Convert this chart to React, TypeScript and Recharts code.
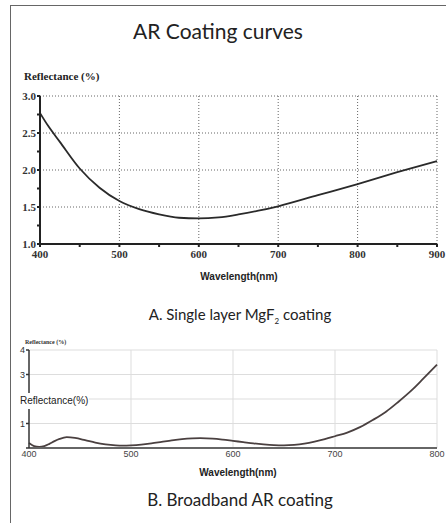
import React from "react";
import { LineChart, Line, XAxis, YAxis, CartesianGrid } from "recharts";

// A. single layer MgF2
const wavelengthA = [400, 410, 425, 450, 475, 500, 525, 550, 575, 600, 625, 650, 675, 700, 750, 800, 850, 900];
const reflectanceA = [2.77, 2.6, 2.38, 2.02, 1.76, 1.58, 1.47, 1.4, 1.355, 1.345, 1.36, 1.4, 1.45, 1.51, 1.66, 1.81, 1.97, 2.12];
const xTicksA = [400, 450, 500, 550, 600, 650, 700, 750, 800, 850, 900];
const yTicksA = [1, 1.25, 1.5, 1.75, 2, 2.25, 2.5, 2.75, 3];

// B. broadband AR
const wavelengthB = [400, 405, 410, 415, 420, 425, 430, 437, 445, 455, 465, 475, 485, 492, 500, 510, 520, 530, 540, 550, 560, 568, 580, 590, 600, 610, 620, 630, 640, 650, 660, 670, 680, 690, 700, 712, 725, 737, 750, 762, 775, 787, 800];
const reflectanceB = [0.2, 0.08, 0.05, 0.08, 0.17, 0.28, 0.37, 0.44, 0.41, 0.32, 0.22, 0.15, 0.11, 0.1, 0.11, 0.14, 0.19, 0.25, 0.31, 0.36, 0.39, 0.4, 0.38, 0.34, 0.29, 0.24, 0.19, 0.15, 0.12, 0.11, 0.13, 0.18, 0.26, 0.36, 0.48, 0.63, 0.86, 1.14, 1.48, 1.88, 2.35, 2.85, 3.4];
const xTicksB = [400, 500, 600, 700, 800];
const yTicksB = [0, 1, 2, 3, 4];
const yLabelsB = [1, 3, 4];

const dataA = wavelengthA.map((w, i) => ({ w, r: reflectanceA[i] }));
const dataB = wavelengthB.map((w, i) => ({ w, r: reflectanceB[i] }));

const sans = "'Liberation Sans', Arial, sans-serif";
const serif = "'Liberation Serif', 'Times New Roman', serif";
const title = "Lato, 'Open Sans', sans-serif";

const abs = (left: number, top: number, extra: React.CSSProperties = {}): React.CSSProperties => ({
  position: "absolute",
  left,
  top,
  whiteSpace: "nowrap",
  lineHeight: 1,
  ...extra,
});

export default function App() {
  return (
    <div style={{ position: "absolute", left: 0, top: 0, width: 446, height: 523, background: "#fff", overflow: "hidden" }}>
      {/* frame */}
      <div style={{ position: "absolute", left: 10, top: 5, width: 440, height: 530, borderLeft: "1.5px solid #666", borderTop: "1.5px solid #666" }} />

      <div style={abs(0, 20, { width: 436, textAlign: "center", fontFamily: title, fontSize: 21, color: "#222" })}>AR Coating curves</div>

      <div style={abs(24, 71, { fontFamily: serif, fontSize: 11, fontWeight: 700, color: "#222" })}>Reflectance (%)</div>

      <div style={{ position: "absolute", left: 0, top: 0 }}>
        <LineChart width={446} height={290} data={dataA} margin={{ top: 96, right: 9, left: 10, bottom: 16 }}>
          <CartesianGrid
            stroke="#666"
            strokeDasharray="1 2"
            horizontalValues={[1.5, 2, 2.5, 3]}
            verticalValues={[500, 600, 700, 800, 900]}
          />
          <XAxis
            dataKey="w"
            type="number"
            domain={[400, 900]}
            ticks={xTicksA}
            interval={0}
            height={30}
            tickSize={3}
            tickMargin={3}
            stroke="#222"
            strokeWidth={2}
            tickFormatter={(v: number) => (v % 100 === 0 ? String(v) : "")}
            tick={{ fontFamily: serif, fontSize: 11, fontWeight: 700, fill: "#333" }}
          />
          <YAxis
            type="number"
            domain={[1, 3]}
            ticks={yTicksA}
            interval={0}
            width={30}
            tickSize={3}
            tickMargin={1}
            stroke="#222"
            strokeWidth={2}
            tickFormatter={(v: number) => (v % 0.5 === 0 ? v.toFixed(1) : "")}
            tick={{ fontFamily: serif, fontSize: 11, fontWeight: 700, fill: "#333" }}
          />
          <Line type="monotone" dataKey="r" stroke="#2a2a2a" strokeWidth={1.8} dot={false} isAnimationActive={false} />
        </LineChart>
      </div>

      <div style={abs(0, 272, { width: 478, textAlign: "center", fontFamily: sans, fontSize: 10, fontWeight: 700, color: "#222" })}>Wavelength(nm)</div>

      <div style={abs(0, 307, { width: 480, textAlign: "center", fontFamily: title, fontSize: 15, color: "#222" })}>
        A. Single layer MgF<sub style={{ fontSize: 8 }}>2</sub> coating
      </div>

      <div style={{ position: "absolute", left: 0, top: 330 }}>
        <LineChart width={446} height={140} data={dataB} margin={{ top: 20, right: 9, left: 10, bottom: 2 }}>
          <CartesianGrid stroke="#ddd" strokeWidth={1} horizontalValues={[1, 2, 3, 4]} verticalValues={[500, 600, 700, 800]} />
          <XAxis
            dataKey="w"
            type="number"
            domain={[400, 800]}
            ticks={xTicksB}
            interval={0}
            height={20}
            tickSize={0}
            tickMargin={3}
            stroke="#666"
            strokeWidth={2}
            tick={{ fontFamily: sans, fontSize: 9, fill: "#444" }}
          />
          <YAxis
            type="number"
            domain={[0, 4]}
            ticks={yTicksB}
            interval={0}
            width={19}
            tickSize={3}
            tickMargin={1}
            stroke="#333"
            strokeWidth={1.5}
            tickFormatter={(v: number) => (yLabelsB.includes(v) ? String(v) : "")}
            tick={{ fontFamily: sans, fontSize: 9, fill: "#333" }}
          />
          <Line type="monotone" dataKey="r" stroke="#4a4040" strokeWidth={1.8} dot={false} isAnimationActive={false} />
        </LineChart>
      </div>

      <div style={abs(25, 339, { fontFamily: serif, fontSize: 6, fontWeight: 700, color: "#333" })}>Reflectance (%)</div>
      <div style={abs(19, 393, { fontFamily: sans, fontSize: 10, color: "#222", background: "#fff", padding: "3px 1px" })}>Reflectance(%)</div>

      <div style={abs(0, 468, { width: 476, textAlign: "center", fontFamily: sans, fontSize: 10, fontWeight: 700, color: "#222" })}>Wavelength(nm)</div>

      <div style={abs(0, 491, { width: 480, textAlign: "center", fontFamily: title, fontSize: 17, color: "#222" })}>B. Broadband AR coating</div>
    </div>
  );
}
